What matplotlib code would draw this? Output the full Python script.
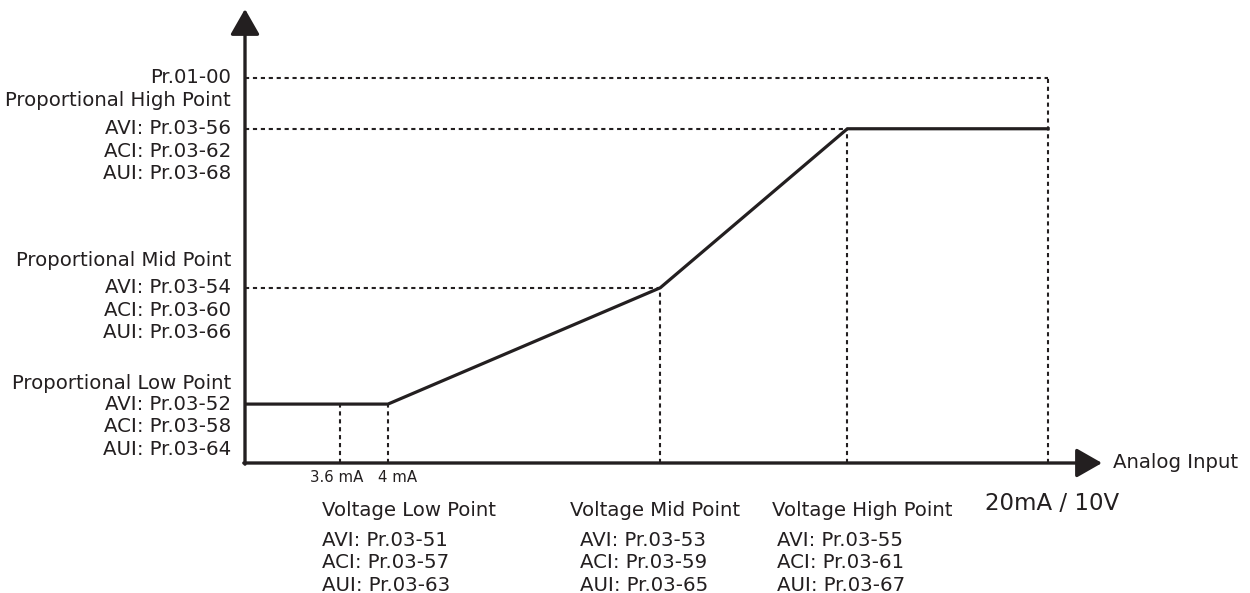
import matplotlib
matplotlib.use("Agg")
import matplotlib.pyplot as plt

# schematic units: x 0..100 = 0..20mA/10V, y 0..100 = 0..Pr.01-00
curve_x = [0, 17.8, 51.7, 75.0, 100]
curve_y = [15.3, 15.3, 45.5, 86.8, 86.8]
x_36ma = 11.8
y_max = 100

left_groups = [
    ("Proportional High Point", ["AVI: Pr.03-56", "ACI: Pr.03-62", "AUI: Pr.03-68"]),
    ("Proportional Mid Point", ["AVI: Pr.03-54", "ACI: Pr.03-60", "AUI: Pr.03-66"]),
    ("Proportional Low Point", ["AVI: Pr.03-52", "ACI: Pr.03-58", "AUI: Pr.03-64"]),
]
bottom_groups = [
    ("Voltage Low Point", ["AVI: Pr.03-51", "ACI: Pr.03-57", "AUI: Pr.03-63"]),
    ("Voltage Mid Point", ["AVI: Pr.03-53", "ACI: Pr.03-59", "AUI: Pr.03-65"]),
    ("Voltage High Point", ["AVI: Pr.03-55", "ACI: Pr.03-61", "AUI: Pr.03-67"]),
]
ma_labels = ["3.6 mA", "4 mA"]

ink = "#231f20"
plt.rcParams['font.family'] = ['DejaVu Sans']

fig = plt.figure(figsize=(12.5, 5.93), dpi=100)
ax = fig.add_axes([245 / 1250, 130 / 593, 857 / 1250, 454 / 593])
xmax, ymax = 106.7, 117.9
ax.set_xlim(0, xmax)
ax.set_ylim(0, ymax)
ax.axis("off")

# axes with arrow heads
arrow = dict(arrowstyle="-|>,head_length=1.05,head_width=0.6", color=ink,
             lw=2.4, shrinkA=0, shrinkB=0, mutation_scale=15)
ax.annotate("", xy=(xmax, 0), xytext=(-0.15, 0), arrowprops=arrow, annotation_clip=False)
ax.annotate("", xy=(0, ymax), xytext=(0, -0.3), arrowprops=arrow, annotation_clip=False)

# dotted guide lines
dash = dict(color=ink, lw=1.5, ls=(0, (2.0, 1.8)), zorder=1)
ax.plot([0, curve_x[-1]], [y_max, y_max], **dash)
ax.plot([curve_x[-1], curve_x[-1]], [0, y_max], **dash)
for xi, yi in zip(curve_x[2:4], curve_y[2:4]):
    ax.plot([0, xi], [yi, yi], **dash)
    ax.plot([xi, xi], [0, yi], **dash)
ax.plot([curve_x[1], curve_x[1]], [0, curve_y[1]], **dash)
ax.plot([x_36ma, x_36ma], [0, curve_y[1]], **dash)

# characteristic curve
ax.plot(curve_x, curve_y, color=ink, lw=2.3, solid_joinstyle="miter", zorder=3)

fs = 14.2
kw = dict(textcoords="offset points", color=ink, fontsize=fs, va="center",
          annotation_clip=False)
ax.annotate("Pr.01-00", xy=(0, y_max), xytext=(-10, 0), ha="right", **kw)

# left-side labels: title offset (px above AVI row)
title_up = [28, 27, 21]
for (title, rows), yv, up in zip(left_groups, [curve_y[3], curve_y[2], curve_y[1]], title_up):
    ax.annotate(title, xy=(0, yv), xytext=(-10, up * 0.72), ha="right", **kw)
    for i, r in enumerate(rows):
        ax.annotate(r, xy=(0, yv), xytext=(-10, -i * 22.5 * 0.72), ha="right", **kw)

# bottom labels: (title dx px, rows dx px)
dxs = [(-66, -66), (-90, -80), (-75, -70)]
for (title, rows), xv, (dt, dr) in zip(bottom_groups, curve_x[1:4], dxs):
    ax.annotate(title, xy=(xv, 0), xytext=(dt * 0.72, -47 * 0.72), ha="left", **kw)
    for i, r in enumerate(rows):
        ax.annotate(r, xy=(xv, 0), xytext=(dr * 0.72, -(77 + i * 22.7) * 0.72),
                    ha="left", **kw)

for lab, xv, dx in zip(ma_labels, [x_36ma, curve_x[1]], [-3, 10]):
    ax.annotate(lab, xy=(xv, 0), xytext=(dx * 0.72, -15 * 0.72), ha="center",
                textcoords="offset points", color=ink, fontsize=10.8, va="center",
                annotation_clip=False)

ax.annotate("20mA / 10V", xy=(curve_x[-1], 0), xytext=(-63 * 0.72, -40 * 0.72),
            ha="left", textcoords="offset points", color=ink, fontsize=16.5,
            va="center", annotation_clip=False)
ax.annotate("Analog Input", xy=(xmax, 0), xytext=(11 * 0.72, 0), ha="left", **kw)

fig.savefig("out.png", dpi=100)
